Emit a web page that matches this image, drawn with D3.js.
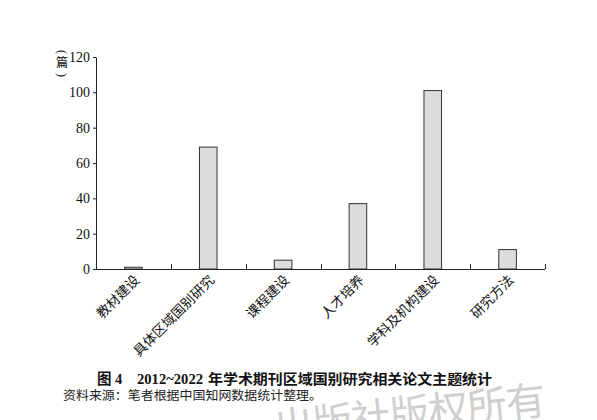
<!DOCTYPE html>
<html>
<head>
<meta charset="utf-8">
<script src="https://cdn.jsdelivr.net/npm/d3@7"></script>
<style>
  body { margin: 0; background: #fff; }
  svg { display: block; }
</style>
</head>
<body>
<div id="chart"></div>
<script>
// Data
const categories = ["教材建设", "具体区域国别研究", "课程建设", "人才培养", "学科及机构建设", "研究方法"];
const counts = [1, 69, 5, 37, 101, 11];
const yTicks = [0, 20, 40, 60, 80, 100, 120];

const W = 597, H = 420;
const margin = { top: 57, right: 52, bottom: 151, left: 96 };
const width = W - margin.left - margin.right;
const height = H - margin.top - margin.bottom;

const serif = "'Liberation Serif', 'Noto Sans CJK SC', serif";

const root = d3.select("#chart")
  .append("svg")
  .attr("width", W)
  .attr("height", H);

const svg = root.append("g")
  .attr("transform", `translate(${margin.left},${margin.top})`);

// Scales
const x = d3.scaleBand()
  .domain(categories)
  .range([0, width])
  .paddingInner(0)
  .paddingOuter(0);

const y = d3.scaleLinear()
  .domain([0, 120])
  .range([height, 0]);

const barW = x.bandwidth() * 0.235;

// Bars
svg.selectAll("rect.bar")
  .data(categories)
  .enter()
  .append("rect")
  .attr("class", "bar")
  .attr("x", d => x(d) + x.bandwidth() / 2 - barW / 2)
  .attr("y", (d, i) => y(counts[i]))
  .attr("width", barW)
  .attr("height", (d, i) => height - y(counts[i]))
  .style("fill", "#dcdcdc")
  .style("stroke", "#333")
  .style("stroke-width", 1);

// Y axis
const yAxis = svg.append("g")
  .call(d3.axisLeft(y)
    .tickValues(yTicks)
    .tickSize(3)
    .tickPadding(3)
    .tickSizeOuter(0));
yAxis.select(".domain").attr("stroke", "#222");
yAxis.selectAll(".tick line").attr("stroke", "#222");
yAxis.selectAll("text")
  .style("font-family", serif)
  .style("font-size", "14px")
  .attr("fill", "#111");

// X axis line with inward ticks at band boundaries
svg.append("line")
  .attr("x1", 0)
  .attr("x2", width)
  .attr("y1", height + 0.5)
  .attr("y2", height + 0.5)
  .style("stroke", "#222");

svg.selectAll("line.xtick")
  .data(categories)
  .enter()
  .append("line")
  .attr("class", "xtick")
  .attr("x1", d => Math.round(x(d) + x.bandwidth()) + 0.5)
  .attr("x2", d => Math.round(x(d) + x.bandwidth()) + 0.5)
  .attr("y1", height)
  .attr("y2", height - 5)
  .style("stroke", "#222");

// X labels, rotated
svg.selectAll("text.xlabel")
  .data(categories)
  .enter()
  .append("text")
  .attr("class", "xlabel")
  .attr("transform", d => `translate(${x(d) + x.bandwidth() / 2 + 7},${height + 12}) rotate(-45)`)
  .attr("text-anchor", "end")
  .style("font-family", serif)
  .style("font-size", "13.5px")
  .style("fill", "#111")
  .text(d => d);

// Y axis unit label: "(篇)" written vertically
const unit = root.append("g").attr("transform", "translate(62,0)");
unit.append("text")
  .attr("transform", "translate(0,52) rotate(90)")
  .attr("text-anchor", "middle")
  .attr("dominant-baseline", "central")
  .style("font-family", serif)
  .style("font-size", "12px")
  .style("fill", "#111")
  .text("(");
unit.append("text")
  .attr("y", 67)
  .attr("text-anchor", "middle")
  .style("font-family", serif)
  .style("font-size", "12px")
  .style("fill", "#111")
  .text("篇");
unit.append("text")
  .attr("transform", "translate(0,75) rotate(90)")
  .attr("text-anchor", "middle")
  .attr("dominant-baseline", "central")
  .style("font-family", serif)
  .style("font-size", "12px")
  .style("fill", "#111")
  .text(")");

// Caption
const cap = root.append("text")
  .attr("y", 384)
  .style("font-family", serif)
  .style("font-size", "14px")
  .style("font-weight", "bold")
  .style("fill", "#111");
cap.append("tspan").attr("x", 97).style("font-size", "14.5px").text("图 4");
cap.append("tspan").attr("x", 137)
  .attr("textLength", 66)
  .attr("lengthAdjust", "spacingAndGlyphs")
  .style("font-size", "14.5px")
  .text("2012~2022");
cap.append("tspan").attr("x", 208)
  .attr("textLength", 284)
  .attr("lengthAdjust", "spacingAndGlyphs")
  .text("年学术期刊区域国别研究相关论文主题统计");

root.append("text")
  .attr("x", 63)
  .attr("y", 400)
  .attr("textLength", 259)
  .attr("lengthAdjust", "spacingAndGlyphs")
  .style("font-family", serif)
  .style("font-size", "12.5px")
  .style("fill", "#222")
  .text("资料来源：笔者根据中国知网数据统计整理。");

// Watermark
root.append("text")
  .attr("transform", "translate(547,414) rotate(-6)")
  .attr("text-anchor", "end")
  .attr("textLength", 273)
  .attr("lengthAdjust", "spacing")
  .style("font-family", "'Noto Sans CJK SC', sans-serif")
  .style("font-size", "40px")
  .style("fill", "#a8a8a8")
  .style("opacity", 0.55)
  .text("出版社版权所有");
</script>
</body>
</html>
